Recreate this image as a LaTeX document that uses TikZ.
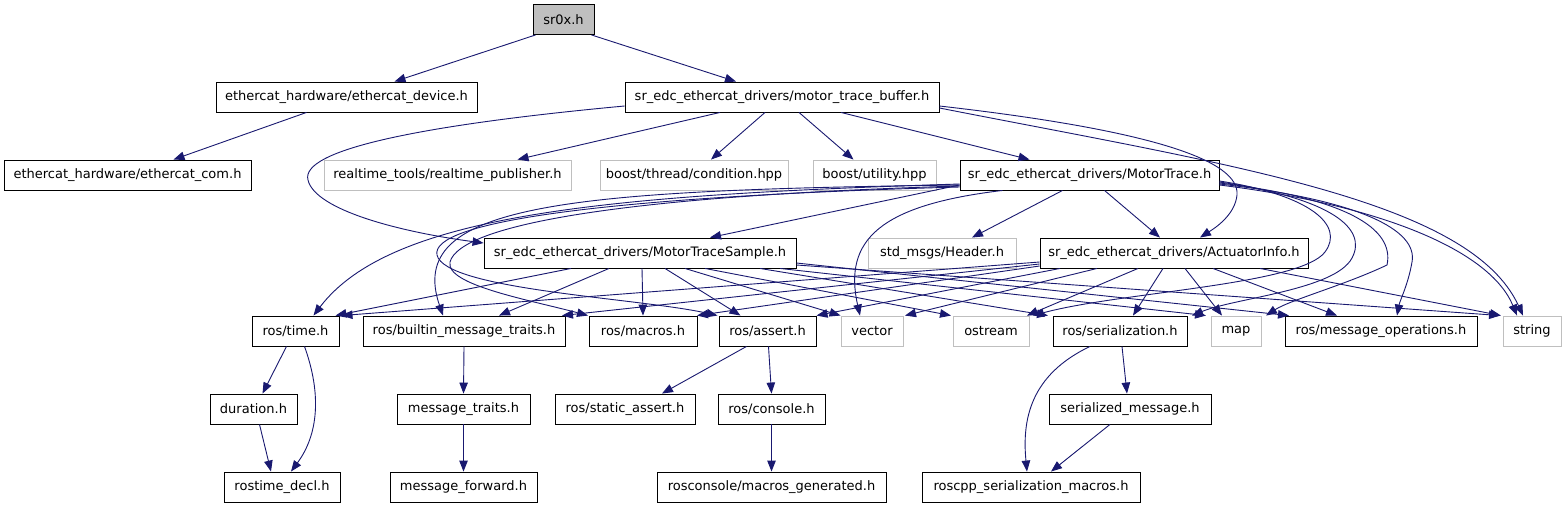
\documentclass[tikz,border=0pt]{standalone}
\usepackage{fontspec}
\setmainfont{DejaVu Sans}
\usetikzlibrary{arrows.meta}
\definecolor{edgeblue}{HTML}{191970}
\definecolor{lgray}{HTML}{BFBFBF}
\tikzset{
  box/.style={draw=black, line width=0.9pt, minimum height=30pt, inner sep=0pt, font=\fontsize{13}{15}\selectfont, text=black},
  gbox/.style={box, draw=lgray},
  e/.style={draw=edgeblue, line width=0.9pt, -{Triangle[length=11pt,width=8.5pt]}}
}
\begin{document}
\begin{tikzpicture}[x=1pt,y=-1pt]
\useasboundingbox[fill=white] (0,0) rectangle (1568,504);
% row 0
\node[box, fill=lgray, minimum width=61pt] (sr0x) at (563.5,19.5) {sr0x.h};
% row 1
\node[box, minimum width=261pt] (edev) at (346.5,97) {ethercat\_hardware/ethercat\_device.h};
\node[box, minimum width=314pt] (mtb) at (782,97) {sr\_edc\_ethercat\_drivers/motor\_trace\_buffer.h};
% row 2
\node[box, minimum width=247pt] (ecom) at (127.5,175) {ethercat\_hardware/ethercat\_com.h};
\node[gbox, minimum width=247pt] (rtp) at (447.5,175) {realtime\_tools/realtime\_publisher.h};
\node[gbox, minimum width=188pt] (cond) at (694,175) {boost/thread/condition.hpp};
\node[gbox, minimum width=123pt] (util) at (874.5,175) {boost/utility.hpp};
\node[box, minimum width=259pt] (mt) at (1089.5,175) {sr\_edc\_ethercat\_drivers/MotorTrace.h};
% row 3
\node[box, minimum width=312pt] (mts) at (640,253) {sr\_edc\_ethercat\_drivers/MotorTraceSample.h};
\node[gbox, minimum width=148pt] (hdr) at (942,253) {std\_msgs/Header.h};
\node[box, minimum width=268pt] (ai) at (1174,253) {sr\_edc\_ethercat\_drivers/ActuatorInfo.h};
% row 4
\node[box, minimum width=87pt] (time) at (295.5,331) {ros/time.h};
\node[box, minimum width=202pt] (bmt) at (464,331) {ros/builtin\_message\_traits.h};
\node[box, minimum width=108pt] (mac) at (643,331) {ros/macros.h};
\node[box, minimum width=97pt] (ast) at (767.5,331) {ros/assert.h};
\node[gbox, minimum width=62pt] (vec) at (872,331) {vector};
\node[gbox, minimum width=76pt] (ost) at (991,331) {ostream};
\node[box, minimum width=134pt] (ser) at (1120,331) {ros/serialization.h};
\node[gbox, minimum width=50pt] (map) at (1236,331) {map};
\node[box, minimum width=192pt] (mop) at (1381,331) {ros/message\_operations.h};
\node[gbox, minimum width=58pt] (str) at (1532,331) {string};
% row 5
\node[box, minimum width=87pt] (dur) at (253.5,409) {duration.h};
\node[box, minimum width=133pt] (mtr) at (463.5,409) {message\_traits.h};
\node[box, minimum width=140pt] (sas) at (625,409) {ros/static\_assert.h};
\node[box, minimum width=107pt] (con) at (771.5,409) {ros/console.h};
\node[box, minimum width=162pt] (sm) at (1130,409) {serialized\_message.h};
% row 6
\node[box, minimum width=116pt] (rdecl) at (282,487) {rostime\_decl.h};
\node[box, minimum width=147pt] (mfwd) at (463.5,487) {message\_forward.h};
\node[box, minimum width=229pt] (mgen) at (771.5,487) {rosconsole/macros\_generated.h};
\node[box, minimum width=218pt] (rsm) at (1031,487) {roscpp\_serialization\_macros.h};

% edges from sr0x
\draw[e] ([xshift=-28pt]sr0x.south) -- ([xshift=48pt]edev.north);
\draw[e] ([xshift=28pt]sr0x.south) -- ([xshift=-46pt]mtb.north);
\draw[e] ([xshift=-40pt]edev.south) -- ([xshift=46pt]ecom.north);
% edges from motor_trace_buffer
\draw[e] ([xshift=-62pt]mtb.south) -- ([xshift=70pt]rtp.north);
\draw[e] ([xshift=-17pt]mtb.south) -- ([xshift=17pt]cond.north);
\draw[e] ([xshift=17pt]mtb.south) -- ([xshift=-21pt]util.north);
\draw[e] ([xshift=59pt]mtb.south) -- ([xshift=-60pt]mt.north);
\draw[e] ([yshift=-9pt]mtb.west) .. controls (420,125) and (300,150) .. (308,180) .. controls (315,210) and (400,232) .. ([yshift=10pt]mts.west);
\draw[e] ([yshift=-9pt]mtb.east) .. controls (1150,130) and (1240,160) .. (1237,195) .. controls (1235,215) and (1215,228) .. ([xshift=26pt]ai.north);
\draw[e] ([yshift=-11pt]mtb.east) .. controls (1230,165) and (1470,200) .. ([xshift=-9pt]str.north);
% edges from MotorTrace
\draw[e] ([yshift=-10pt]mt.west) -- ([xshift=70pt]mts.north);
\draw[e] ([xshift=-27pt]mt.south) -- ([xshift=30pt]hdr.north);
\draw[e] ([xshift=15pt]mt.south) -- ([xshift=-14pt]ai.north);
\draw[e] ([yshift=-9pt]mt.west) .. controls (600,195) and (390,215) .. ([xshift=18pt]time.north);
\draw[e] ([yshift=-10pt]mt.west) .. controls (560,190) and (405,205) .. ([xshift=-21pt]bmt.north);
\draw[e] ([yshift=-11pt]mt.west) .. controls (620,196) and (460,225) .. (450,262) .. controls (445,285) and (530,300) .. ([xshift=-55pt]mac.north);
\draw[e] ([yshift=-12pt]mt.west) .. controls (600,197) and (430,222) .. (437,255) .. controls (445,290) and (640,298) .. ([xshift=-50pt]ast.north);
\draw[e] ([xshift=-87pt]mt.south) .. controls (880,205) and (843,240) .. ([xshift=-12pt]vec.north);
\draw[e] ([yshift=-6pt]mt.east) .. controls (1310,195) and (1345,225) .. (1325,252) .. controls (1300,285) and (1120,292) .. ([xshift=42pt]ost.north);
\draw[e] ([yshift=-7pt]mt.east) .. controls (1330,198) and (1368,228) .. (1352,258) .. controls (1335,290) and (1235,298) .. ([xshift=72pt]ser.north);
\draw[e] ([yshift=-8pt]mt.east) .. controls (1345,198) and (1395,228) .. (1387,265) .. controls (1345,285) and (1290,300) .. ([xshift=30pt]map.north);
\draw[e] ([yshift=-9pt]mt.east) .. controls (1360,200) and (1418,230) .. (1412,262) .. controls (1408,285) and (1400,300) .. ([xshift=16pt]mop.north);
\draw[e] ([yshift=-10pt]mt.east) .. controls (1380,205) and (1490,250) .. ([xshift=-15pt]str.north);
% edges from MotorTraceSample
\draw[e] ([xshift=-69pt]mts.south) -- ([xshift=40pt]time.north);
\draw[e] ([xshift=-31pt]mts.south) -- ([xshift=35pt]bmt.north);
\draw[e] ([xshift=2pt]mts.south) -- (mac.north);
\draw[e] ([xshift=25pt]mts.south) -- ([xshift=-27pt]ast.north);
\draw[e] ([xshift=45pt]mts.south) -- (vec.north west);
\draw[e] ([xshift=65pt]mts.south) -- ([xshift=-40pt]ost.north);
\draw[e] ([xshift=120pt]mts.south) -- ([xshift=-72pt]ser.north);
\draw[e] ([xshift=140pt]mts.south) -- ([xshift=-30pt]map.north);
\draw[e] ([yshift=-10pt]mts.east) -- ([xshift=-92pt]mop.north);
\draw[e] ([yshift=-12pt]mts.east) -- ([xshift=-32pt]str.north);
% edges from ActuatorInfo
\draw[e] ([yshift=-9pt]ai.west) -- ([xshift=46pt]time.north);
\draw[e] ([yshift=-11pt]ai.west) -- ([xshift=98pt]bmt.north);
\draw[e] ([yshift=-13pt]ai.west) -- ([xshift=54pt]mac.north);
\draw[e] ([xshift=-114pt]ai.south) -- ([xshift=49pt]ast.north);
\draw[e] ([xshift=-77pt]ai.south) -- ([xshift=33pt]vec.north);
\draw[e] ([xshift=-36pt]ai.south) -- ([xshift=36pt]ost.north);
\draw[e] ([xshift=-11pt]ai.south) -- ([xshift=13pt]ser.north);
\draw[e] ([xshift=11pt]ai.south) -- ([xshift=-14pt]map.north);
\draw[e] ([xshift=39pt]ai.south) -- ([xshift=-44pt]mop.north);
\draw[e] ([xshift=86pt]ai.south) -- ([xshift=-31pt]str.north);
% lower edges
\draw[e] ([xshift=-9pt]time.south) -- ([xshift=9pt]dur.north);
\draw[e] ([xshift=9pt]time.south) .. controls (322,395) and (318,435) .. ([xshift=9pt]rdecl.north);
\draw[e] ([xshift=6pt]dur.south) -- ([xshift=-11pt]rdecl.north);
\draw[e] (bmt.south) -- (mtr.north);
\draw[e] (mtr.south) -- (mfwd.north);
\draw[e] ([xshift=-21pt]ast.south) -- ([xshift=37pt]sas.north);
\draw[e] ([xshift=1pt]ast.south) -- (con.north);
\draw[e] (con.south) -- (mgen.north);
\draw[e] ([xshift=2pt]ser.south) -- ([xshift=-3pt]sm.north);
\draw[e] ([xshift=-30pt]ser.south) .. controls (1030,375) and (1022,420) .. ([xshift=-4pt]rsm.north);
\draw[e] ([xshift=-20pt]sm.south) -- ([xshift=20pt]rsm.north);
\end{tikzpicture}
\end{document}
